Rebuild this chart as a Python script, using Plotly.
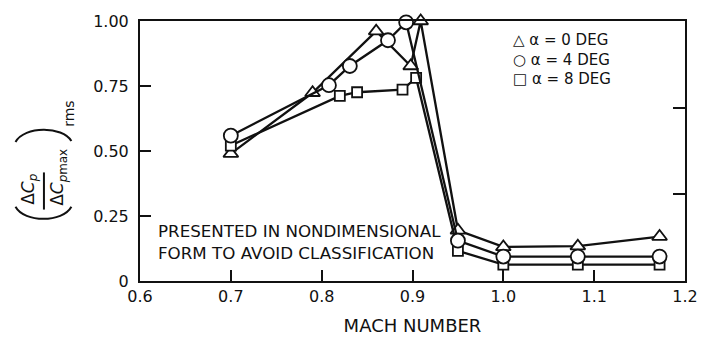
import plotly.graph_objects as go

# ---- data ----
mach_a0 = [0.70, 0.79, 0.86, 0.898, 0.909, 0.95, 1.0, 1.082, 1.172]
cp_a0 = [0.49, 0.724, 0.961, 0.827, 1.0, 0.195, 0.131, 0.134, 0.171]
mach_a4 = [0.70, 0.808, 0.831, 0.873, 0.893, 0.95, 1.0, 1.082, 1.172]
cp_a4 = [0.559, 0.753, 0.827, 0.926, 0.995, 0.155, 0.094, 0.094, 0.094]
mach_a8 = [0.70, 0.820, 0.839, 0.889, 0.904, 0.95, 1.0, 1.082, 1.172]
cp_a8 = [0.521, 0.712, 0.726, 0.736, 0.781, 0.116, 0.063, 0.063, 0.063]

x_tickvals = [0.6, 0.7, 0.8, 0.9, 1.0, 1.1, 1.2]
x_ticktext = ["0.6", "0.7", "0.8", "0.9", "1.0", "1.1", "1.2"]
y_tickvals = [0, 0.25, 0.5, 0.75, 1.0]
y_ticktext = ["0", "0.25", "0.50", "0.75", "1.00"]
y_right_tickvals = [1 / 3, 2 / 3]
legend_labels = ["α = 0 DEG", "α = 4 DEG", "α = 8 DEG"]
legend_symbols = ["△", "○", "□"]

FONT = "DejaVu Sans"
BLACK = "#111111"

# plot-area geometry in pixels (for placing the decorative title pieces)
L, R, T, B = 140, 14, 12, 60
W, H = 710, 345
PW, PH = W - L - R, H - T - B


def px(x):
    return (x - L) / PW


def py(y):
    return (H - B - y) / PH


fig = go.Figure()

series = [
    (mach_a0, cp_a0, "triangle-up", 13, "y", legend_labels[0]),
    (mach_a8, cp_a8, "square", 10, "y", legend_labels[2]),
    (mach_a4, cp_a4, "circle", 14, "y2", legend_labels[1]),
]
for xs, ys, sym, size, yax, name in series:
    fig.add_trace(go.Scatter(
        x=xs, y=ys, mode="lines+markers", name=name, yaxis=yax,
        line=dict(color=BLACK, width=2.3),
        marker=dict(symbol=sym, size=size, color="white",
                    line=dict(color=BLACK, width=1.8)),
        cliponaxis=False, showlegend=False,
    ))

axis_font = dict(family=FONT, size=16, color=BLACK)

fig.update_layout(
    width=W, height=H,
    margin=dict(l=L, r=R, t=T, b=B),
    paper_bgcolor="white", plot_bgcolor="white",
    font=dict(family=FONT, color=BLACK),
    xaxis=dict(
        range=[0.6, 1.2], tickvals=x_tickvals, ticktext=x_ticktext,
        ticks="inside", ticklen=11, tickwidth=1.8, tickcolor=BLACK,
        showline=True, linecolor=BLACK, linewidth=2, mirror=True,
        showgrid=False, zeroline=False, tickfont=axis_font,
        title=dict(text="MACH NUMBER", font=dict(family=FONT, size=18, color=BLACK), standoff=14),
    ),
    yaxis=dict(
        range=[0, 1.0], tickvals=y_tickvals, ticktext=y_ticktext,
        ticks="inside", ticklen=11, tickwidth=1.8, tickcolor=BLACK,
        showline=True, linecolor=BLACK, linewidth=2, mirror=True,
        showgrid=False, zeroline=False, tickfont=axis_font,
        ticklabelstandoff=6,
    ),
    yaxis2=dict(
        range=[0, 1.0], overlaying="y", side="right",
        tickvals=y_right_tickvals, ticks="inside", ticklen=12, tickwidth=1.8,
        tickcolor=BLACK, showticklabels=False, showline=False,
        showgrid=False, zeroline=False,
    ),
)

annotations = []
# legend built as one text block
legend_text = "<br>".join(f"{s} {lab}" for s, lab in zip(legend_symbols, legend_labels))
annotations.append(dict(
    xref="paper", yref="paper", x=px(518), y=py(20), xanchor="left", yanchor="top",
    text=legend_text, align="left", showarrow=False,
    font=dict(family=FONT, size=15, color=BLACK)))

# note inside the plot
annotations.append(dict(
    xref="paper", yref="paper", x=px(156), y=py(244), xanchor="left", yanchor="middle",
    text="PRESENTED IN NONDIMENSIONAL<br>FORM TO AVOID CLASSIFICATION", align="left",
    showarrow=False, font=dict(family=FONT, size=16.7, color=BLACK)))

# y-axis title: ( ΔCp / ΔCp max )rms, rotated
annotations.append(dict(
    xref="paper", yref="paper", x=px(27), y=py(189), xanchor="center", yanchor="middle",
    textangle=-90, text="Δ<i>C<sub>p</sub></i>", showarrow=False,
    font=dict(family=FONT, size=17, color=BLACK)))
annotations.append(dict(
    xref="paper", yref="paper", x=px(57), y=py(176), xanchor="center", yanchor="middle",
    textangle=-90, text="Δ<i>C<sub>p</sub></i><sub>max</sub>", showarrow=False,
    font=dict(family=FONT, size=17, color=BLACK)))
annotations.append(dict(
    xref="paper", yref="paper", x=px(68), y=py(109), xanchor="center", yanchor="middle",
    textangle=-90, text="rms", showarrow=False,
    font=dict(family=FONT, size=14, color=BLACK)))

shapes = [
    # fraction bar
    dict(type="line", xref="paper", yref="paper", x0=px(42), x1=px(42),
         y0=py(171), y1=py(210), line=dict(color=BLACK, width=2)),
    # bottom parenthesis
    dict(type="path", xref="paper", yref="paper",
         path=f"M {px(13)},{py(207)} C {px(22)},{py(224)} {px(61)},{py(224)} {px(70)},{py(207)}",
         line=dict(color=BLACK, width=2)),
    # top parenthesis
    dict(type="path", xref="paper", yref="paper",
         path=f"M {px(13)},{py(139)} C {px(22)},{py(122)} {px(61)},{py(122)} {px(70)},{py(138)}",
         line=dict(color=BLACK, width=2)),
]

fig.update_layout(annotations=annotations, shapes=shapes)
fig.write_html("out.html")
